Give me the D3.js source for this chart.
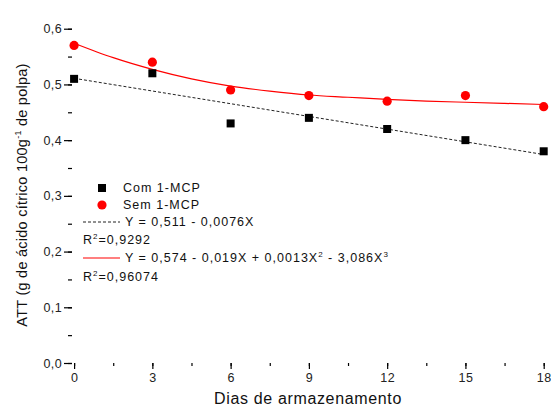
<!DOCTYPE html>
<html><head><meta charset="utf-8">
<script src="https://cdn.jsdelivr.net/npm/d3@7"></script>
<style>body{margin:0;background:#fff}svg{display:block}text{font-family:"Liberation Sans",Arial,sans-serif}</style>
</head><body><svg id="c" width="551" height="414"></svg>
<script>
const days = [0, 3, 6, 9, 12, 15, 18];
const comMCP = [0.51, 0.52, 0.43, 0.44, 0.42, 0.40, 0.38];
const semMCP = [0.57, 0.54, 0.49, 0.48, 0.47, 0.48, 0.46];
const linFitX = [0, 18];
const linFitY = [0.511, 0.3742];
const curveFitX = [0, 1.5, 3, 4.5, 6, 7.5, 9, 10.5, 12, 13.5, 15, 16.5, 18];
const curveFitY = [0.574, 0.548, 0.527, 0.510, 0.497, 0.488, 0.481, 0.477, 0.473, 0.470, 0.468, 0.466, 0.464];
const xTicks = [0, 3, 6, 9, 12, 15, 18];
const yTicks = [0, 0.1, 0.2, 0.3, 0.4, 0.5, 0.6];

const svg = d3.select("#c");
const x = d3.scaleLinear().domain([-0.08, 18.05]).range([72, 545]);
const y = d3.scaleLinear().domain([0, 0.63]).range([363, 12]);
const fmt = d => d3.format(".1f")(d).replace(".", ",");

const gx = svg.append("g").attr("transform", "translate(0,363)");
gx.call(d3.axisBottom(x).tickValues(d3.range(0, 18.01, 1.5)).tickSize(3).tickFormat(""));
gx.append("g").call(d3.axisBottom(x).tickValues(xTicks).tickSize(6).tickPadding(4).tickFormat(d3.format("d")));
const gy = svg.append("g").attr("transform", "translate(72,0)");
gy.call(d3.axisLeft(y).tickValues(d3.range(0, 0.631, 0.05)).tickSize(4).tickFormat(""));
gy.append("g").call(d3.axisLeft(y).tickValues(yTicks).tickSize(8).tickPadding(2).tickFormat(fmt));
svg.selectAll(".domain").attr("stroke", "#000").attr("stroke-width", 1.5);
svg.selectAll(".tick line").attr("stroke", "#000").attr("stroke-width", 1.2);
svg.selectAll(".tick text").attr("font-size", 12.5).attr("fill", "#222").attr("letter-spacing", "0.4px").attr("font-family", "Liberation Sans, Arial, sans-serif");
gx.selectAll("g .domain").remove();
gy.selectAll("g .domain").remove();

svg.append("path").datum(linFitX.map((v,i)=>[v, linFitY[i]]))
  .attr("d", d3.line().x(d=>x(d[0])).y(d=>y(d[1])))
  .attr("fill","none").attr("stroke","#222").attr("stroke-width",1).attr("stroke-dasharray","3,2");
svg.append("path").datum(curveFitX.map((v,i)=>[v, curveFitY[i]]))
  .attr("d", d3.line().curve(d3.curveMonotoneX).x(d=>x(d[0])).y(d=>y(d[1])))
  .attr("fill","none").attr("stroke","#f00").attr("stroke-width",1.2);

svg.selectAll(".sq").data(days).enter().append("rect")
  .attr("x", (d)=>x(d)-4).attr("y",(d,i)=>y(comMCP[i])-4).attr("width",8).attr("height",8).attr("fill","#000");
svg.selectAll(".ci").data(days).enter().append("circle")
  .attr("cx", d=>x(d)).attr("cy",(d,i)=>y(semMCP[i])).attr("r",4.6).attr("fill","#f00");

const lg = svg.append("g").attr("font-size", 12.5).attr("fill", "#111").attr("letter-spacing", "1px");
lg.append("rect").attr("x", 98).attr("y", 184).attr("width", 8).attr("height", 8).attr("fill", "#000");
lg.append("text").attr("x", 123).attr("y", 192).text("Com 1-MCP");
lg.append("circle").attr("cx", 102).attr("cy", 205).attr("r", 4.6).attr("fill", "#f00");
lg.append("text").attr("x", 123).attr("y", 209).text("Sem 1-MCP");
lg.append("line").attr("x1", 83).attr("x2", 120).attr("y1", 222).attr("y2", 222).attr("stroke","#222").attr("stroke-dasharray","3,2");
lg.append("text").attr("x", 125).attr("y", 226).text("Y = 0,511 - 0,0076X");
const r1 = lg.append("text").attr("x", 83).attr("y", 244);
r1.append("tspan").text("R");
r1.append("tspan").attr("font-size", 8).attr("dy", -5).text("2");
r1.append("tspan").attr("dy", 5).text("=0,9292");
lg.append("line").attr("x1", 83).attr("x2", 120).attr("y1", 258).attr("y2", 258).attr("stroke","#f00").attr("stroke-width",1.2);
const e2 = lg.append("text").attr("x", 125).attr("y", 262);
e2.append("tspan").text("Y = 0,574 - 0,019X + 0,0013X");
e2.append("tspan").attr("font-size", 8).attr("dy", -5).text("2");
e2.append("tspan").attr("dy", 5).text(" - 3,086X");
e2.append("tspan").attr("font-size", 8).attr("dy", -5).text("3");
const r2 = lg.append("text").attr("x", 83).attr("y", 281);
r2.append("tspan").text("R");
r2.append("tspan").attr("font-size", 8).attr("dy", -5).text("2");
r2.append("tspan").attr("dy", 5).text("=0,96074");

svg.append("text").attr("x", 308).attr("y", 404).attr("text-anchor","middle").attr("font-size", 16).attr("letter-spacing", "0.65px").attr("fill","#111").text("Dias de armazenamento");
const yt = svg.append("text").attr("transform","translate(27,195) rotate(-90)").attr("text-anchor","middle").attr("font-size", 14.5).attr("letter-spacing", "0.25px").attr("fill","#111");
yt.append("tspan").text("ATT (g de ácido cítrico 100g");
yt.append("tspan").attr("font-size", 9).attr("dy", -6).text("-1");
yt.append("tspan").attr("dy", 6).text(" de polpa)");
</script></body></html>
